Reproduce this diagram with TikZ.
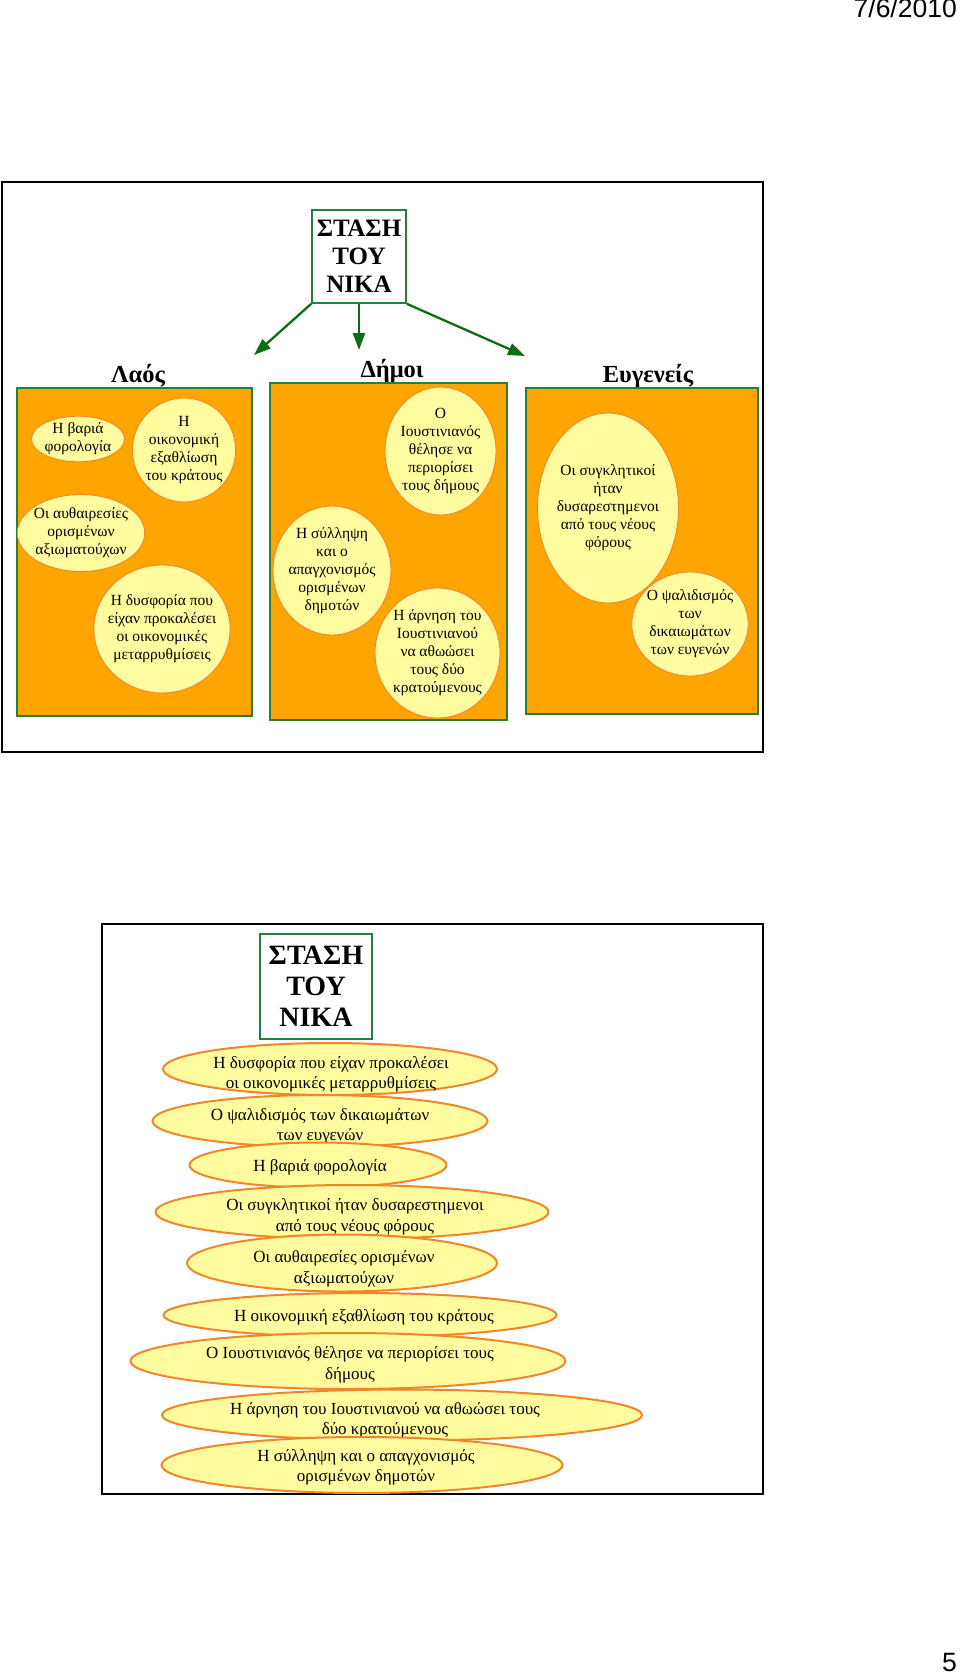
\documentclass[tikz,border=0pt]{standalone}
\usepackage{fontspec}
\setmainfont{Liberation Serif}
\newfontfamily\arialfont{Liberation Sans}
\usetikzlibrary{arrows.meta,shapes.geometric}
\definecolor{stasigreen}{HTML}{23803A}
\definecolor{arrowgreen}{HTML}{0C6E12}
\definecolor{boxorange}{HTML}{FFA502}
\definecolor{ellfill}{HTML}{FFFB9E}
\definecolor{ellline}{HTML}{F0862A}
\tikzset{
  >={Triangle[length=17pt,width=12pt]},
  % πλαίσια
  slide/.style={draw=black,line width=1.8pt},
  title/.style={draw=stasigreen,line width=1.6pt,fill=white,align=center,inner sep=0pt},
  hdr/.style={font=\fontsize{24.5}{28}\selectfont\bfseries,inner sep=0pt,anchor=base},
  group/.style={draw=stasigreen,line width=1.4pt,fill=boxorange,inner sep=0pt},
  arr/.style={->,draw=arrowgreen,line width=2.3pt},
  % ελλείψεις
  ell/.style={ellipse,draw=ellline,line width=0.9pt,fill=ellfill,inner sep=0pt,
              align=center,font=\fontsize{15.5}{18}\selectfont},
  ellb/.style={ellipse,draw=ellline,line width=2pt,fill=ellfill,inner sep=0pt},
  ellt/.style={align=center,inner sep=0pt,font=\fontsize{17}{20.5}\selectfont},
  pagetxt/.style={font=\arialfont\fontsize{26.5}{30}\selectfont,inner sep=0pt,anchor=base east},
}
\begin{document}
\begin{tikzpicture}[x=1pt,y=-1pt]
  \useasboundingbox (0,0) rectangle (960,1680);
  \node[pagetxt] (date) at (957,18) {7/6/2010};
  \node[pagetxt] (page) at (957,1671) {5};

  % πρώτη διαφάνεια
  \draw[slide] (2,182) rectangle (763,752);
  \node[title,minimum width=94pt,minimum height=93pt,
        font=\fontsize{25}{28}\selectfont\bfseries] (stasi) at (359,256.5) {ΣΤΑΣΗ\\ΤΟΥ\\ΝΙΚΑ};
  \coordinate (laosend) at (254,355);
  \coordinate (dimoiend) at (359,350);
  \coordinate (evgend) at (525,356);
  \draw[arr] (stasi.south west) -- (laosend);
  \draw[arr] (stasi.south) -- (dimoiend);
  \draw[arr] (stasi.south east) -- (evgend);

  \node[hdr] (laoshdr) at (138,382) {Λαός};
  \node[hdr] (dimoihdr) at (392,377) {Δήμοι};
  \node[hdr] (evghdr) at (648,382) {Ευγενείς};

  \node[group,minimum width=235pt,minimum height=328pt] (laos) at (134.5,552) {};
  \node[group,minimum width=237pt,minimum height=337pt] (dimoi) at (388.5,551.5) {};
  \node[group,minimum width=232pt,minimum height=326pt] (evg) at (642,551) {};

  \node[ell,minimum width=93pt,minimum height=40pt,inner xsep=-2pt] (bar) at (78,439) {Η βαριά\\φορολογία};
  \node[ell,minimum width=99pt,minimum height=104pt,inner xsep=-2pt] (oik) at (184,450) {Η\\οικονομική\\εξαθλίωση\\του κράτους};
  \node[ell,minimum width=125pt,minimum height=77pt,inner xsep=-2pt] (afth) at (81,533) {Οι αυθαιρεσίες\\ορισμένων\\αξιωματούχων};
  \node[ell,minimum width=130pt,minimum height=128pt,inner xsep=-6pt] (dysf) at (162,629) {Η δυσφορία που\\είχαν προκαλέσει\\οι οικονομικές\\μεταρρυθμίσεις};
  \node[ell,minimum width=111pt,minimum height=128pt,inner xsep=-2pt] (ioust) at (440.5,451) {Ο\\Ιουστινιανός\\θέλησε να\\περιορίσει\\τους δήμους};
  \node[ell,minimum width=118pt,minimum height=129pt,inner xsep=-2pt] (syll) at (332,570.5) {Η σύλληψη\\και ο\\απαγχονισμός\\ορισμένων\\δημοτών};
  \node[ell,minimum width=125pt,minimum height=130pt,inner xsep=-2pt] (arn) at (437.5,653) {Η άρνηση του\\Ιουστινιανού\\να αθωώσει\\τους δύο\\κρατούμενους};
  \node[ell,minimum width=141pt,minimum height=190pt,inner xsep=-3pt] (sygk) at (608,508) {Οι συγκλητικοί\\ήταν\\δυσαρεστημενοι\\από τους νέους\\φόρους};
  \node[ell,minimum width=113pt,minimum height=104pt,inner xsep=-2pt] (psal) at (690,624) {Ο ψαλιδισμός\\των\\δικαιωμάτων\\των ευγενών};

  % δεύτερη διαφάνεια
  \draw[slide] (102,924) rectangle (763,1494);
  \node[title,minimum width=112pt,minimum height=105pt,
        font=\fontsize{28}{31}\selectfont\bfseries] (stasib) at (316,986.5) {ΣΤΑΣΗ\\ΤΟΥ\\ΝΙΚΑ};
  \node[ellb,minimum width=334pt,minimum height=52pt] (b1) at (330,1069) {};
  \node[ellt] (b1t) at (331,1074.5) {Η δυσφορία που είχαν προκαλέσει\\οι οικονομικές μεταρρυθμίσεις};
  \node[ellb,minimum width=335pt,minimum height=52pt] (b2) at (320,1121) {};
  \node[ellt] (b2t) at (320,1126.5) {Ο ψαλιδισμός των δικαιωμάτων\\των ευγενών};
  \node[ellb,minimum width=257pt,minimum height=45pt] (b3) at (318,1165) {};
  \node[ellt] (b3t) at (320,1167) {Η βαριά φορολογία};
  \node[ellb,minimum width=393pt,minimum height=54pt] (b4) at (352,1212) {};
  \node[ellt] (b4t) at (355,1217) {Οι συγκλητικοί ήταν δυσαρεστημενοι\\από τους νέους φόρους};
  \node[ellb,minimum width=310pt,minimum height=57pt] (b5) at (342,1263) {};
  \node[ellt] (b5t) at (344,1269) {Οι αυθαιρεσίες ορισμένων\\αξιωματούχων};
  \node[ellb,minimum width=393pt,minimum height=44pt] (b6) at (360,1315) {};
  \node[ellt] (b6t) at (364,1317) {Η οικονομική εξαθλίωση του κράτους};
  \node[ellb,minimum width=435pt,minimum height=56pt] (b7) at (348,1361) {};
  \node[ellt] (b7t) at (350,1365) {Ο Ιουστινιανός θέλησε να περιορίσει τους\\δήμους};
  \node[ellb,minimum width=480pt,minimum height=51pt] (b8) at (402,1415) {};
  \node[ellt] (b8t) at (385,1420.5) {Η άρνηση του Ιουστινιανού να αθωώσει τους\\δύο κρατούμενους};
  \node[ellb,minimum width=401pt,minimum height=56pt] (b9) at (362,1465) {};
  \node[ellt] (b9t) at (366,1467.5) {Η σύλληψη και ο απαγχονισμός\\ορισμένων δημοτών};
\end{tikzpicture}
\end{document}
